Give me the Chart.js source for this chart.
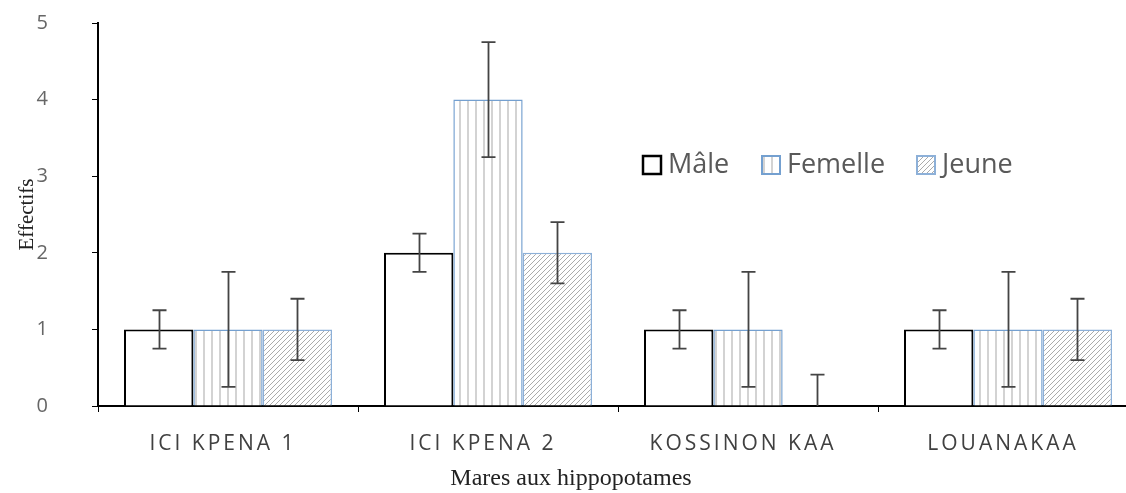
<!DOCTYPE html>
<html>
<head>
<meta charset="utf-8">
<script src="https://cdn.jsdelivr.net/npm/chart.js@4"></script>
<style>
	html, body { margin: 0; padding: 0; background: #fff; overflow: hidden; }
	#main-chart { display: block; }
</style>
</head>
<body>
<canvas id="main-chart" width="1140" height="493"></canvas>
<script>
// effectifs par mare
const categories = ['ICI KPENA 1', 'ICI KPENA 2', 'KOSSINON KAA', 'LOUANAKAA'];
const male = [1, 2, 1, 1];
const femelle = [1, 4, 1, 1];
const jeune = [1, 2, 0, 1];

// ecarts (barres d'erreur)
const maleErr = [0.25, 0.25, 0.25, 0.25];
const femelleErr = [0.75, 0.75, 0.75, 0.75];
const jeuneErr = [0.4, 0.4, 0.41, 0.4];

const yMin = 0;
const yMax = 5;
const yStep = 1;

const labelFont = '"Open Sans", "Liberation Sans", sans-serif';
const serifFont = '"Liberation Serif", "DejaVu Serif", serif';

// hachures
function verticalLines() {
	var c = document.createElement('canvas');
	c.width = 8; c.height = 8;
	var g = c.getContext('2d');
	g.fillStyle = '#fff';
	g.fillRect(0, 0, 8, 8);
	g.strokeStyle = '#c4c4c4';
	g.lineWidth = 1.5;
	g.beginPath();
	g.moveTo(4, 0); g.lineTo(4, 8);
	g.stroke();
	return g.createPattern(c, 'repeat');
}

function diagonalLines() {
	var s = 5;
	var c = document.createElement('canvas');
	c.width = s; c.height = s;
	var g = c.getContext('2d');
	g.fillStyle = '#fff';
	g.fillRect(0, 0, s, s);
	g.strokeStyle = '#ababab';
	g.lineWidth = 1;
	g.beginPath();
	g.moveTo(0, s); g.lineTo(s, 0);
	g.moveTo(-1, 1); g.lineTo(1, -1);
	g.moveTo(s - 1, s + 1); g.lineTo(s + 1, s - 1);
	g.stroke();
	return g.createPattern(c, 'repeat');
}

const errorBars = {
	id: 'errorBars',
	afterDatasetsDraw(chart) {
		var ctx = chart.ctx;
		var y = chart.scales.y;
		var area = chart.chartArea;
		ctx.save();
		ctx.beginPath();
		ctx.rect(area.left, 0, area.right - area.left, area.bottom);
		ctx.clip();
		ctx.strokeStyle = '#444';
		ctx.lineWidth = 1.8;
		chart.data.datasets.forEach(function(ds, i) {
			var meta = chart.getDatasetMeta(i);
			meta.data.forEach(function(bar, j) {
				var v = ds.data[j], e = ds.errors[j];
				var top = y.getPixelForValue(v + e);
				var bot = y.getPixelForValue(v - e);
				var x = Math.round(bar.x) + 0.5;
				ctx.beginPath();
				ctx.moveTo(x, top); ctx.lineTo(x, bot);
				ctx.moveTo(x - 7, top); ctx.lineTo(x + 7, top);
				ctx.moveTo(x - 7, bot); ctx.lineTo(x + 7, bot);
				ctx.stroke();
			});
		});
		ctx.restore();
	}
};

const legendX = [643, 762, 917];

const boxLegend = {
	id: 'boxLegend',
	afterDraw(chart) {
		var ctx = chart.ctx;
		var cy = 165, box = 18;
		ctx.save();
		ctx.font = '27px ' + labelFont;
		ctx.textBaseline = 'middle';
		chart.data.datasets.forEach(function(ds, i) {
			var x = legendX[i];
			ctx.fillStyle = ds.backgroundColor;
			ctx.fillRect(x, cy - box / 2, box, box);
			ctx.strokeStyle = ds.borderColor;
			ctx.lineWidth = ds.borderWidth + 0.5;
			ctx.strokeRect(x, cy - box / 2, box, box);
			ctx.fillStyle = '#595959';
			ctx.fillText(ds.label, x + box + 7, cy);
		});
		ctx.restore();
	}
};

const chart = new Chart(document.getElementById('main-chart'), {
	type: 'bar',
	data: {
		labels: categories,
		datasets: [
			{ label: 'Mâle', data: male, errors: maleErr, backgroundColor: '#fff', borderColor: '#000', borderWidth: 2 },
			{ label: 'Femelle', data: femelle, errors: femelleErr, backgroundColor: verticalLines(), borderColor: '#74a0d0', borderWidth: 1.5 },
			{ label: 'Jeune', data: jeune, errors: jeuneErr, backgroundColor: diagonalLines(), borderColor: '#8db0d8', borderWidth: 1.5 }
		]
	},
	options: {
		responsive: false,
		animation: false,
		devicePixelRatio: 1,
		layout: { padding: { top: 23, right: 2, left: 0, bottom: 0 } },
		datasets: { bar: { categoryPercentage: 0.8, barPercentage: 1 } },
		plugins: {
			legend: { display: false },
			tooltip: { enabled: false }
		},
		scales: {
			x: {
				grid: { drawOnChartArea: false, drawTicks: true, tickLength: 6, color: '#000', offset: true },
				border: { color: '#000', width: 2 },
				ticks: { color: '#404040', font: { family: labelFont, size: 21 }, padding: 19, maxRotation: 0 },
				title: { display: true, text: 'Mares aux hippopotames', color: '#222', font: { family: serifFont, size: 24 }, padding: { top: 0, bottom: 0 } },
				afterFit(scale) {
					scale.height = 87;
					scale.paddingLeft = 0;
					scale.paddingRight = 0;
				}
			},
			y: {
				min: yMin,
				max: yMax,
				grid: { drawOnChartArea: false, drawTicks: true, tickLength: 6, color: '#000' },
				border: { color: '#000', width: 2 },
				ticks: { stepSize: yStep, color: '#666', font: { family: labelFont, size: 20 }, padding: 44 },
				title: { display: true, text: 'Effectifs', color: '#222', font: { family: serifFont, size: 21 }, padding: { top: 15, bottom: 0 } },
				afterFit(scale) {
					scale.width = 98;
					scale.paddingTop = 0;
					scale.paddingBottom = 0;
				}
			}
		}
	},
	plugins: [errorBars, boxLegend]
});

// espacement des lettres des libelles de l'axe x, titre decale vers la gauche
var xs = chart.scales.x;
var drawLabels = xs.drawLabels.bind(xs);
var drawTitle = xs.drawTitle.bind(xs);
xs.drawLabels = function(area) {
	var ctx = chart.ctx;
	ctx.save();
	ctx.letterSpacing = '3px';
	ctx.translate(-5, 0);
	drawLabels(area);
	ctx.restore();
};
xs.drawTitle = function() {
	var ctx = chart.ctx;
	ctx.save();
	ctx.translate(-47, 0);
	drawTitle();
	ctx.restore();
};
chart.draw();
</script>
</body>
</html>
